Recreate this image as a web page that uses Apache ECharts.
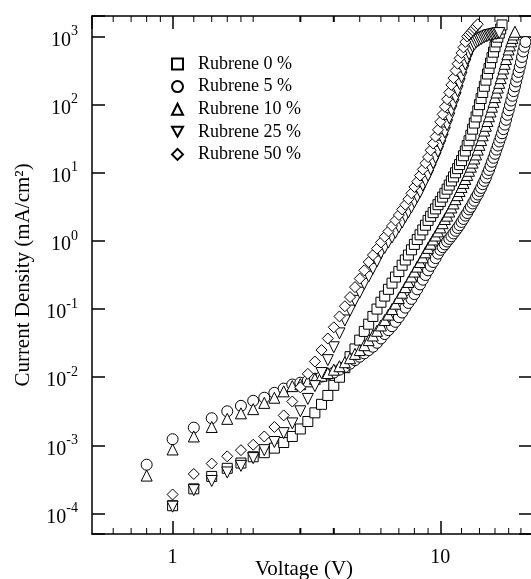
<!DOCTYPE html>
<html>
<head>
<meta charset="utf-8">
<script src="https://cdn.jsdelivr.net/npm/echarts@6/dist/echarts.min.js"></script>
<style>
html,body{margin:0;padding:0;background:#fff;}
#chart{width:531px;height:579px;}
</style>
</head>
<body>
<div id="chart"></div>
<script>
// Voltage grid (V)
const voltages = [
  0.8,
  1.0, 1.2, 1.4, 1.6, 1.8,
  2.0, 2.2, 2.4, 2.6, 2.8,
  3.0, 3.2, 3.4, 3.6, 3.8,
  4.0, 4.2, 4.4, 4.6, 4.8,
  5.0, 5.2, 5.4, 5.6, 5.8,
  6.0, 6.2, 6.4, 6.6, 6.8,
  7.0, 7.2, 7.4, 7.6, 7.8,
  8.0, 8.2, 8.4, 8.6, 8.8,
  9.0, 9.2, 9.4, 9.6, 9.8,
  10.0, 10.2, 10.4, 10.6, 10.8,
  11.0, 11.2, 11.4, 11.6, 11.8,
  12.0, 12.2, 12.4, 12.6, 12.8,
  13.0, 13.2, 13.4, 13.6, 13.8,
  14.0, 14.2, 14.4, 14.6, 14.8,
  15.0, 15.2, 15.4, 15.6, 15.8,
  16.0, 16.2, 16.4, 16.6, 16.8,
  17.0, 17.2, 17.4, 17.6, 17.8,
  18.0, 18.2, 18.4, 18.6, 18.8,
  19.0, 19.2, 19.4, 19.6, 19.8,
  20.0, 20.2, 20.4, 20.6, 20.8
];

// Current density (mA/cm^2), aligned with voltages
const rubrene0 = [
  null,
  1.3e-4, 2.3e-4, 3.5e-4, 4.6e-4, 5.5e-4,
  6.8e-4, 7.8e-4, 9.1e-4, 1.1e-3, 1.35e-3,
  1.74e-3, 2.24e-3, 3.0e-3, 4.0e-3, 5.4e-3,
  7.6e-3, 1.0e-2, 1.38e-2, 2.0e-2, 2.6e-2,
  3.5e-2, 4.7e-2, 6.0e-2, 7.8e-2, 0.1,
  0.126, 0.155, 0.195, 0.24, 0.295,
  0.355, 0.44, 0.525, 0.62, 0.74,
  0.89, 1.05, 1.23, 1.45, 1.7,
  2.0, 2.3, 2.6, 2.95, 3.4,
  3.8, 4.4, 5.0, 5.75, 6.6,
  7.6, 8.7, 10, 11.5, 13.2,
  15.1, 17.8, 20.9, 25.1, 29.5,
  35.5, 43.7, 53.7, 66, 81,
  100, 123, 151, 186, 229,
  282, 339, 407, 490, 589,
  708, 832, 977, 1122, 1288,
  1479
];

const rubrene5 = [
  5.2e-4,
  1.23e-3, 1.82e-3, 2.5e-3, 3.16e-3, 3.8e-3,
  4.5e-3, 5.0e-3, 5.9e-3, 6.8e-3, 7.8e-3,
  8.3e-3, 8.9e-3, 9.5e-3, 1.02e-2, 1.1e-2,
  1.17e-2, 1.29e-2, 1.41e-2, 1.58e-2, 1.78e-2,
  2.0e-2, 2.24e-2, 2.5e-2, 2.8e-2, 3.2e-2,
  3.7e-2, 4.3e-2, 4.9e-2, 5.6e-2, 6.5e-2,
  7.6e-2, 8.9e-2, 0.105, 0.123, 0.141,
  0.166, 0.195, 0.23, 0.27, 0.316,
  0.37, 0.43, 0.49, 0.56, 0.65,
  0.74, 0.81, 0.89, 0.98, 1.07,
  1.17, 1.29, 1.41, 1.55, 1.7,
  1.9, 2.1, 2.35, 2.57, 2.9,
  3.16, 3.55, 3.9, 4.4, 4.8,
  5.4, 6.0, 6.8, 7.6, 8.5,
  9.8, 11, 12.6, 14.5, 16.6,
  19, 21.9, 25.1, 28.8, 33,
  38, 43.7, 51, 60, 71,
  83, 98, 115, 135, 158,
  186, 219, 257, 302, 355,
  417, 501, 603, 708, 832
];

const rubrene10 = [
  3.6e-4,
  8.7e-4, 1.35e-3, 1.86e-3, 2.45e-3, 2.95e-3,
  3.4e-3, 4.2e-3, 5.0e-3, 6.2e-3, 7.4e-3,
  7.9e-3, 8.7e-3, 9.5e-3, 1.05e-2, 1.15e-2,
  1.29e-2, 1.45e-2, 1.66e-2, 1.9e-2, 2.2e-2,
  2.5e-2, 2.95e-2, 3.5e-2, 4.1e-2, 4.8e-2,
  5.75e-2, 6.9e-2, 8.3e-2, 0.1, 0.12,
  0.145, 0.174, 0.21, 0.25, 0.30,
  0.355, 0.42, 0.49, 0.575, 0.68,
  0.79, 0.91, 1.05, 1.2, 1.38,
  1.58, 1.82, 2.1, 2.35, 2.7,
  3.1, 3.55, 4.1, 4.7, 5.4,
  6.2, 7.1, 8.1, 9.3, 10.7,
  12.3, 14.1, 16.2, 18.6, 21.9,
  25.7, 30.2, 35.5, 41.7, 49,
  57.5, 67.6, 79.4, 93.3, 110,
  129, 151, 178, 209, 245,
  288, 339, 398, 468, 550,
  646, 741, 851, 955, 1072,
  1175
];

const rubrene25 = [
  null,
  1.26e-4, 2.2e-4, 3.0e-4, 4.0e-4, 5.0e-4,
  6.5e-4, 8.5e-4, 1.12e-3, 1.51e-3, 2.1e-3,
  3.16e-3, 4.8e-3, 7.4e-3, 1.15e-2, 1.78e-2,
  2.75e-2, 4.4e-2, 6.8e-2, 9.5e-2, 0.132,
  0.174, 0.234, 0.30, 0.39, 0.50,
  0.66, 0.79, 0.95, 1.12, 1.32,
  1.58, 1.86, 2.24, 2.63, 3.1,
  3.7, 4.4, 5.2, 6.5, 7.6,
  9.1, 11.2, 13.8, 16.6, 20.4,
  25, 31, 39, 50, 63,
  81, 100, 126, 158, 200,
  251, 316, 389, 468, 550,
  631, 708, 759, 813, 851,
  891, 912, 955, 977, 1000,
  1023, 1047, 1047, 1072, 1072,
  1096, 1096, 1122, 1122
];

const rubrene50 = [
  null,
  1.9e-4, 3.8e-4, 5.4e-4, 6.9e-4, 8.5e-4,
  1.02e-3, 1.35e-3, 1.86e-3, 2.75e-3, 4.4e-3,
  7.1e-3, 1.12e-2, 1.7e-2, 2.5e-2, 3.7e-2,
  5.4e-2, 7.8e-2, 0.11, 0.15, 0.21,
  0.28, 0.37, 0.49, 0.62, 0.77,
  0.95, 1.15, 1.38, 1.66, 2.0,
  2.4, 2.9, 3.4, 4.1, 5.0,
  6.2, 7.4, 9.1, 11.2, 13.8,
  17, 21.4, 26.9, 33.9, 42.7,
  56, 72, 93, 120, 151,
  195, 245, 316, 398, 479,
  575, 692, 832, 1000, 1072,
  1148, 1230, 1318, 1413, 1514
];

const seriesNames = ['Rubrene 0 %', 'Rubrene 5 %', 'Rubrene 10 %', 'Rubrene 25 %', 'Rubrene 50 %'];
const xLabelValues = [1, 10];
const xMinorTicks = [0.6, 0.7, 0.8, 0.9, 1.2, 1.4, 1.6, 1.8, 2, 3, 4, 5, 6, 7, 8, 9, 12, 14, 16, 18, 20];
const xRange = [0.5, 22];
const yRange = [5e-5, 2000];

const FONT = 'Liberation Serif';
const DOWN_TRIANGLE = 'path://M0,0L20,0L10,18Z';

function pairs(vals) {
  const out = [];
  vals.forEach(function (j, i) { if (j != null) out.push([voltages[i], j]); });
  return out;
}

const axisLineStyle = { show: true, onZero: false, lineStyle: { color: '#000', width: 1.5 } };
const majorTick = { show: true, inside: true, length: 13, lineStyle: { color: '#000', width: 1.5 } };

function xLabelFmt(v) {
  for (let i = 0; i < xLabelValues.length; i++) {
    if (Math.abs(v - xLabelValues[i]) < 1e-9) return String(xLabelValues[i]);
  }
  return '';
}
function yLabelFmt(v) {
  const e = Math.log10(v);
  const r = Math.round(e);
  if (Math.abs(e - r) > 1e-6) return '';
  return '{b|10}{s|' + r + '}';
}

const markerStyle = { color: '#fff', borderColor: '#000', borderWidth: 1, opacity: 1 };

function scatter(name, vals, symbol, size, z) {
  return {
    type: 'scatter', name: name, data: pairs(vals),
    symbol: symbol, symbolSize: size,
    itemStyle: markerStyle, emphasis: { disabled: true }, silent: true, z: z,
    xAxisIndex: 0, yAxisIndex: 0
  };
}

const chart = echarts.init(document.getElementById('chart'), null, { renderer: 'canvas' });

const option = {
  animation: false,
  backgroundColor: '#fff',
  grid: { left: 92, top: 16, right: -1, bottom: 45, containLabel: false, outerBoundsMode: 'none' },
  legend: {
    orient: 'vertical', left: 166, top: 50,
    itemWidth: 11, itemHeight: 11, itemGap: 4.6,
    data: seriesNames, selectedMode: false,
    textStyle: { fontFamily: FONT, fontSize: 18, color: '#000', padding: [0, 0, 0, 10] }
  },
  xAxis: [
    {
      type: 'log', logBase: 10, min: xRange[0], max: xRange[1], position: 'bottom',
      axisLine: axisLineStyle, axisTick: majorTick, splitLine: { show: false }, minorTick: { show: false },
      axisLabel: { formatter: xLabelFmt, fontFamily: FONT, fontSize: 20, color: '#000', margin: 14, showMinLabel: false, showMaxLabel: false },
      name: 'Voltage (V)', nameLocation: 'middle', nameGap: 25, nameMoveOverlap: false,
      nameTextStyle: { fontFamily: FONT, fontSize: 21, color: '#000', padding: [0, 16, 0, 0] }
    },
    {
      type: 'log', logBase: 10, min: xRange[0], max: xRange[1], position: 'top',
      axisLine: axisLineStyle, axisTick: majorTick, splitLine: { show: false }, minorTick: { show: false },
      axisLabel: { show: false }
    }
  ],
  yAxis: [
    {
      type: 'log', logBase: 10, min: yRange[0], max: yRange[1], position: 'left',
      axisLine: axisLineStyle, axisTick: majorTick, splitLine: { show: false }, minorTick: { show: false },
      axisLabel: {
        formatter: yLabelFmt, margin: 14, color: '#000', padding: [8, 0, 0, 0],
        rich: {
          b: { fontFamily: FONT, fontSize: 20, lineHeight: 32, color: '#000' },
          s: { fontFamily: FONT, fontSize: 14, lineHeight: 10, verticalAlign: 'top', color: '#000' }
        }
      },
      name: 'Current Density (mA/cm²)', nameLocation: 'middle', nameGap: 58,
      nameTextStyle: { fontFamily: FONT, fontSize: 21, color: '#000' }
    },
    {
      type: 'log', logBase: 10, min: yRange[0], max: yRange[1], position: 'right',
      axisLine: axisLineStyle, axisTick: majorTick, splitLine: { show: false }, minorTick: { show: false },
      axisLabel: { show: false }
    }
  ],
  series: [
    {
      type: 'custom', name: 'minorTicks', silent: true, z: 10, clip: false,
      xAxisIndex: 0, yAxisIndex: 0,
      data: xMinorTicks.map(function (v) { return [v, yRange[0]]; }),
      encode: { x: 0, y: 1 },
      renderItem: function (params, api) {
        const v = api.value(0);
        const b = api.coord([v, yRange[0]]);
        const t = api.coord([v, yRange[1]]);
        const w = (v === 3 || v === 4) ? 2 : 1;
        return {
          type: 'group',
          children: [
            { type: 'line', shape: { x1: b[0], y1: b[1], x2: b[0], y2: b[1] - 6 }, style: { stroke: '#000', lineWidth: w } },
            { type: 'line', shape: { x1: t[0], y1: t[1], x2: t[0], y2: t[1] + 6 }, style: { stroke: '#000', lineWidth: w } }
          ]
        };
      }
    },
    scatter(seriesNames[0], rubrene0, 'rect', 10, 2),
    scatter(seriesNames[1], rubrene5, 'circle', 11, 3),
    scatter(seriesNames[2], rubrene10, 'triangle', 11, 4),
    scatter(seriesNames[3], rubrene25, DOWN_TRIANGLE, 11, 5),
    scatter(seriesNames[4], rubrene50, 'diamond', 11, 6)
  ]
};

chart.setOption(option);
</script>
</body>
</html>
